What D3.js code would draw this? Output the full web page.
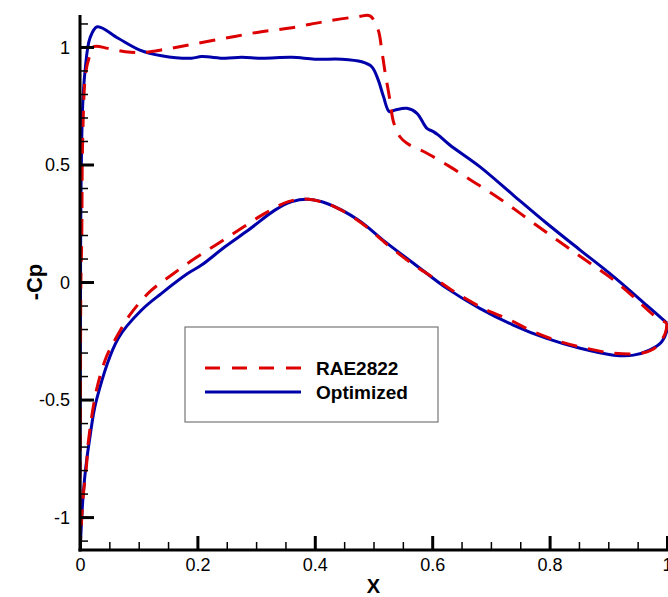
<!DOCTYPE html>
<html>
<head>
<meta charset="utf-8">
<script src="https://cdn.jsdelivr.net/npm/d3@7"></script>
<style>
  body { margin: 0; background: #fff; }
  text { font-family: Arial, "Liberation Sans", sans-serif; }
</style>
</head>
<body>
<div id="chart"></div>
<script>
  // x/c and -Cp
  const raeUpper = [
    [0, -1.13], [0.0008, -0.5], [0.0015, 0], [0.003, 0.187], [0.0046, 0.613],
    [0.010, 0.895], [0.017, 0.966], [0.023, 1.001], [0.048, 0.994], [0.077, 0.98],
    [0.105, 0.976], [0.145, 0.99], [0.19, 1.011], [0.247, 1.037], [0.304, 1.063],
    [0.361, 1.082], [0.417, 1.108], [0.474, 1.129], [0.494, 1.132], [0.508, 1.072],
    [0.514, 0.987], [0.52, 0.888], [0.528, 0.774], [0.534, 0.682], [0.545, 0.618],
    [0.557, 0.59], [0.591, 0.548], [0.63, 0.491], [0.67, 0.427], [0.71, 0.363],
    [0.75, 0.292], [0.789, 0.221], [0.829, 0.15], [0.869, 0.08], [0.909, 0.009],
    [0.943, -0.063], [0.977, -0.14], [1.0, -0.175]
  ];
  const raeLower = [
    [0, -1.13], [0.003, -0.999], [0.006, -0.898], [0.011, -0.783], [0.014, -0.685],
    [0.028, -0.46], [0.045, -0.318], [0.0625, -0.233], [0.085, -0.14], [0.119, -0.041],
    [0.156, 0.03], [0.196, 0.101], [0.236, 0.165], [0.275, 0.229], [0.315, 0.292],
    [0.355, 0.342], [0.389, 0.352], [0.434, 0.32], [0.48, 0.25], [0.514, 0.179],
    [0.528, 0.15], [0.568, 0.074], [0.608, 0.009], [0.642, -0.048], [0.687, -0.112],
    [0.733, -0.162], [0.772, -0.211], [0.818, -0.254], [0.863, -0.282], [0.909, -0.303],
    [0.96, -0.301], [0.982, -0.275], [0.997, -0.218], [1.0, -0.175]
  ];
  const optUpper = [
    [0, -1.13], [0.0005, -0.5], [0.001, 0.128], [0.002, 0.45], [0.0046, 0.753],
    [0.0085, 0.895], [0.017, 1.038], [0.0295, 1.086], [0.065, 1.037], [0.102, 0.987],
    [0.139, 0.963], [0.19, 0.952], [0.207, 0.959], [0.247, 0.952], [0.275, 0.956],
    [0.31, 0.952], [0.361, 0.956], [0.4, 0.948], [0.446, 0.948], [0.48, 0.937],
    [0.497, 0.916], [0.508, 0.86], [0.517, 0.789], [0.527, 0.725], [0.537, 0.732],
    [0.557, 0.739], [0.574, 0.718], [0.591, 0.654], [0.602, 0.64], [0.61, 0.626],
    [0.63, 0.583], [0.681, 0.491], [0.738, 0.37], [0.795, 0.25], [0.852, 0.136],
    [0.909, 0.023], [0.965, -0.098], [1.0, -0.175]
  ];
  const optLower = [
    [0, -1.13], [0.003, -0.999], [0.0056, -0.899], [0.01, -0.786], [0.017, -0.658],
    [0.028, -0.502], [0.065, -0.24], [0.105, -0.119], [0.139, -0.048], [0.184, 0.037],
    [0.207, 0.072], [0.247, 0.15], [0.287, 0.221], [0.332, 0.306], [0.361, 0.342],
    [0.389, 0.352], [0.423, 0.332], [0.474, 0.264], [0.52, 0.171], [0.568, 0.08],
    [0.625, -0.027], [0.681, -0.112], [0.738, -0.183], [0.795, -0.24], [0.852, -0.282],
    [0.909, -0.311], [0.943, -0.311], [0.971, -0.289], [0.991, -0.254], [1.0, -0.204],
    [1.0, -0.175]
  ];

  const xTicks = [0, 0.2, 0.4, 0.6, 0.8, 1];
  const yTicks = [-1, -0.5, 0, 0.5, 1];
  const seriesNames = ["RAE2822", "Optimized"];

  const width = 668;
  const height = 597;

  const svg = d3.select("#chart")
    .append("svg")
    .attr("width", width)
    .attr("height", height);

  const xScale = d3.scaleLinear().domain([0, 1]).range([80, 667]);
  const yScale = d3.scaleLinear().domain([-1.14, 1.136]).range([550, 15]);

  svg.append("clipPath")
    .attr("id", "plotClip")
    .append("rect")
    .attr("x", xScale(0))
    .attr("y", 0)
    .attr("width", width - xScale(0))
    .attr("height", yScale(-1.14));

  const line = d3.line()
    .x(d => xScale(d[0]))
    .y(d => yScale(d[1]))
    .curve(d3.curveCatmullRom.alpha(0.5));

  // one loop per airfoil: lower surface TE -> LE, then upper LE -> TE
  const loop = (lower, upper) => lower.slice().reverse().concat(upper.slice(1));

  const curves = svg.append("g").attr("clip-path", "url(#plotClip)");

  curves.append("path")
    .attr("d", line(loop(optLower, optUpper)))
    .attr("fill", "none")
    .attr("stroke", "#0000aa")
    .attr("stroke-width", 3);

  curves.append("path")
    .attr("d", line(loop(raeLower, raeUpper)))
    .attr("fill", "none")
    .attr("stroke", "#dd0000")
    .attr("stroke-width", 3)
    .attr("stroke-dasharray", "16,11");

  // axes, ticks drawn inward like the original
  const xMinor = d3.range(0, 1.0001, 0.05);
  const yMinor = d3.range(-1.1, 1.1001, 0.1);
  const plain = d => String(d);   // hyphen-minus, not the unicode minus

  const xAxis = svg.append("g")
    .attr("transform", `translate(0,${yScale(-1.14)})`)
    .call(d3.axisBottom(xScale).tickValues(xMinor).tickSize(-8).tickFormat(""));
  xAxis.select(".domain").remove();
  xAxis.selectAll(".tick line").attr("stroke", "#000").attr("stroke-width", 1.5);

  const xMajor = svg.append("g")
    .attr("transform", `translate(0,${yScale(-1.14)})`)
    .call(d3.axisBottom(xScale).tickValues(xTicks).tickSize(-14).tickPadding(8)
      .tickFormat(plain));
  xMajor.select(".domain").remove();
  xMajor.selectAll(".tick line").attr("stroke", "#000").attr("stroke-width", 3);
  xMajor.selectAll(".tick text")
    .attr("font-size", 18)
    .attr("fill", "#000");

  const yAxis = svg.append("g")
    .attr("transform", `translate(${xScale(0)},0)`)
    .call(d3.axisLeft(yScale).tickValues(yMinor).tickSize(-8).tickFormat(""));
  yAxis.select(".domain").remove();
  yAxis.selectAll(".tick line").attr("stroke", "#000").attr("stroke-width", 1.5);

  const yMajor = svg.append("g")
    .attr("transform", `translate(${xScale(0)},0)`)
    .call(d3.axisLeft(yScale).tickValues(yTicks).tickSize(-14).tickPadding(10)
      .tickFormat(plain));
  yMajor.select(".domain").remove();
  yMajor.selectAll(".tick line").attr("stroke", "#000").attr("stroke-width", 3);
  yMajor.selectAll(".tick text")
    .attr("font-size", 18)
    .attr("fill", "#000")
    .attr("dy", "0.35em");

  // axis lines
  svg.append("line")
    .attr("x1", xScale(0)).attr("x2", xScale(0))
    .attr("y1", yScale(1.136)).attr("y2", yScale(-1.14) + 1.5)
    .attr("stroke", "#000").attr("stroke-width", 3);
  svg.append("line")
    .attr("x1", xScale(0) - 1.5).attr("x2", xScale(1) + 2)
    .attr("y1", yScale(-1.14)).attr("y2", yScale(-1.14))
    .attr("stroke", "#000").attr("stroke-width", 3);

  svg.append("text")
    .attr("x", xScale(0.5))
    .attr("y", 593)
    .attr("text-anchor", "middle")
    .attr("font-size", 20)
    .attr("font-weight", "bold")
    .text("X");

  svg.append("text")
    .attr("transform", `translate(42,${yScale(0)}) rotate(-90)`)
    .attr("text-anchor", "middle")
    .attr("font-size", 22)
    .attr("font-weight", "bold")
    .text("-Cp");

  // legend
  const legend = svg.append("g");
  legend.append("rect")
    .attr("x", 185).attr("y", 327)
    .attr("width", 253).attr("height", 95)
    .attr("fill", "#fff")
    .attr("stroke", "#777")
    .attr("stroke-width", 1.2);

  const legendStyle = [
    { color: "#dd0000", dash: "15,12" },
    { color: "#0000aa", dash: null }
  ];
  seriesNames.forEach((name, i) => {
    const yy = 368 + i * 24;
    legend.append("line")
      .attr("x1", 205).attr("x2", 301)
      .attr("y1", yy).attr("y2", yy)
      .attr("stroke", legendStyle[i].color)
      .attr("stroke-width", 3)
      .attr("stroke-dasharray", legendStyle[i].dash);
    legend.append("text")
      .attr("x", 316)
      .attr("y", yy + 6.5)
      .attr("font-size", 19)
      .attr("font-weight", "bold")
      .text(name);
  });
</script>
</body>
</html>
